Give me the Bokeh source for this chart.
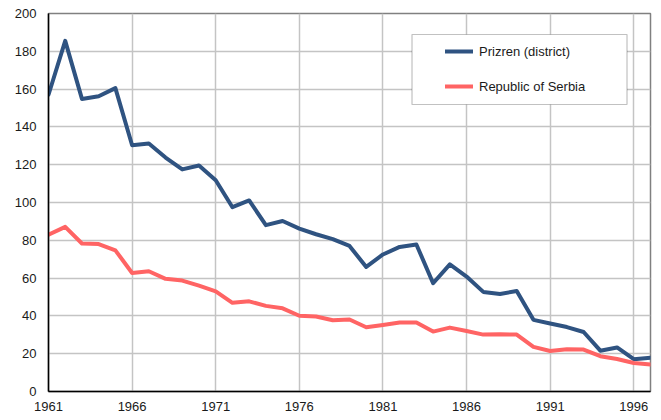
from bokeh.plotting import figure
from bokeh.models import (ColumnDataSource, FixedTicker, Range1d, Legend, LegendItem,
                          BoxAnnotation)
from bokeh.embed import file_html
from bokeh.resources import INLINE

# ---- data ----
years = list(range(1961, 1998))
prizren = [157, 185.5, 154.8, 156.2, 160.5, 130.3, 131.2, 123.8, 117.5, 119.6,
           111.8, 97.5, 101.1, 88, 90.2, 86.2, 83.2, 80.6, 77, 65.9,
           72.5, 76.5, 77.8, 57.3, 67.3, 60.8, 52.7, 51.6, 53.2, 37.9,
           36, 34.1, 31.5, 21.6, 23.3, 17.1, 17.8]
serbia = [83, 87.1, 78.3, 78, 74.7, 62.7, 63.6, 59.6, 58.7, 56,
          53, 46.9, 47.7, 45.3, 44, 40.1, 39.7, 37.7, 38.1, 34,
          35.2, 36.5, 36.5, 31.7, 33.8, 32, 30.1, 30.3, 30.1, 23.6,
          21.4, 22.3, 22.2, 18.7, 17.2, 15.1, 14.3]
series_names = ["Prizren (district)", "Republic of Serbia"]
x_ticks = [1961, 1966, 1971, 1976, 1981, 1986, 1991, 1996]
y_ticks = [0, 20, 40, 60, 80, 100, 120, 140, 160, 180, 200]

FONT = "Liberation Sans"
BLUE = "#2f5381"
RED = "#ff6464"

src = ColumnDataSource(data=dict(year=years, prizren=prizren, serbia=serbia))

p = figure(frame_width=602, frame_height=378,
           x_range=Range1d(1961, 1997), y_range=Range1d(0, 200),
           output_backend="svg", toolbar_location=None,
           min_border_left=48, min_border_top=13, min_border_right=8,
           min_border_bottom=20, background_fill_color="white",
           border_fill_color="white")

p.outline_line_color = "#808080"
p.outline_line_width = 1.5

for ax in (p.xaxis[0], p.yaxis[0]):
    ax.axis_line_color = "black"
    ax.axis_line_width = 1.5
    ax.major_tick_in = 0
    ax.major_tick_out = 0
    ax.minor_tick_in = 0
    ax.minor_tick_out = 0
    ax.major_label_text_font = FONT
    ax.major_label_text_font_size = "13px"
    ax.major_label_text_color = "#1a1a1a"

p.xaxis[0].ticker = FixedTicker(ticks=x_ticks)
p.yaxis[0].ticker = FixedTicker(ticks=y_ticks)
p.xaxis[0].major_label_standoff = 10
p.yaxis[0].major_label_standoff = 12

p.xgrid[0].ticker = FixedTicker(ticks=x_ticks)
p.ygrid[0].ticker = FixedTicker(ticks=y_ticks)
for g in (p.xgrid[0], p.ygrid[0]):
    g.grid_line_color = "#c4c4c4"
    g.grid_line_width = 1.5

r1 = p.line("year", "prizren", source=src, line_color=BLUE, line_width=4,
            line_join="round", line_cap="round")
r2 = p.line("year", "serbia", source=src, line_color=RED, line_width=4,
            line_join="round", line_cap="round")

# legend frame (screen units relative to plot frame)
box = BoxAnnotation(left=363.5, right=578.5, top=357, bottom=287,
                    left_units="screen", right_units="screen",
                    top_units="screen", bottom_units="screen",
                    fill_color="white", fill_alpha=1.0,
                    line_color="#333333", line_width=1.2)
p.add_layout(box)

legend = Legend(items=[LegendItem(label=series_names[0], renderers=[r1]),
                       LegendItem(label=series_names[1], renderers=[r2])],
                location=(397, 295), padding=0, margin=0, spacing=15,
                glyph_width=28, glyph_height=20, label_height=20,
                label_standoff=6, label_text_font=FONT,
                label_text_font_size="13px", label_text_color="#1a1a1a",
                border_line_alpha=0, background_fill_alpha=0)
p.add_layout(legend)

open("out.html", "w").write(file_html(p, INLINE))
